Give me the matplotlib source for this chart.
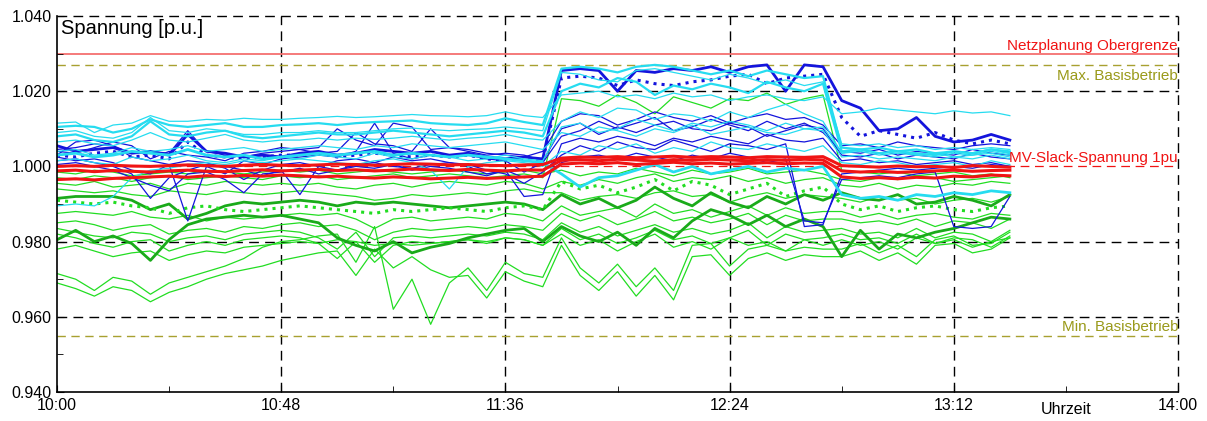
import matplotlib.pyplot as plt
from matplotlib.ticker import MultipleLocator, FixedLocator, FormatStrFormatter

plt.rcParams['font.family'] = ['Liberation Sans', 'DejaVu Sans']

# Zeitstempel in Minuten ab 10:00 (4-Minuten-Raster bis 13:24)
zeit_min = list(range(0, 205, 4))

tick_pos = [0, 48, 96, 144, 192, 240]
tick_labels = ["10:00", "10:48", "11:36", "12:24", "13:12", "14:00"]
minor_pos = [24, 72, 120, 168, 216]

# Grenzwerte [p.u.]
netzplanung_ober = 1.030
basis_max = 1.027
basis_min = 0.955
slack_soll = 1.000

# Spannungsverlaeufe: Abweichung von 1 p.u. in Promille
rot_1 = [0.0, 0.2, 0.0, 0.3, 0.1, 0.0, 0.2, 0.4, 0.2, 0.0, 0.3, 0.5, 0.3, 0.2, 0.4, 0.6, 0.5, 0.3, 0.5, 0.7, 0.6, 0.4, 0.5, 0.3, 0.2, 0.4, 0.5,
         2.2, 2.5, 2.4, 2.6, 2.3, 2.5, 2.7, 2.4, 2.6, 2.5, 2.3, 2.6, 2.5, 2.4, 2.6,
         0.2, 0.0, -0.2, 0.1, -0.1, 0.0, -0.3, 0.2, 0.0, -0.2]
rot_2 = [-1.2, -1.0, -1.4, -1.1, -1.3, -1.5, -1.2, -1.0, -1.3, -1.4, -1.1, -0.9, -1.2, -1.0, -0.8, -1.1, -0.9, -1.2, -1.0, -0.7, -0.9, -1.1, -0.8, -1.0, -1.2, -0.9, -1.0,
         1.6, 1.8, 1.5, 1.9, 1.7, 1.4, 1.8, 1.6, 1.9, 1.7, 1.5, 1.8, 1.6, 1.9, 1.7,
         -1.2, -1.5, -1.3, -1.6, -1.4, -1.2, -1.0, -1.3, -1.1, -1.0]
rot_3 = [-3.5, -3.3, -3.6, -3.2, -3.0, -2.8, -2.6, -2.9, -2.5, -2.7, -2.4, -2.6, -2.3, -2.5, -2.8, -2.6, -2.9, -3.1, -2.8, -3.0, -3.3, -3.1, -2.9, -3.2, -3.0, -2.8, -2.6,
         0.6, 0.9, 0.7, 1.0, 0.5, 0.8, 1.1, 0.7, 0.9, 0.6, 0.8, 1.0, 0.7, 0.9, 0.8,
         -2.8, -3.2, -3.0, -3.3, -2.9, -3.1, -2.6, -2.8, -2.3, -2.5]

cyan_1 = [11.5, 11.8, 9.0, 11.0, 11.5, 13.5, 12.0, 12.0, 12.5, 12.3, 12.8, 12.5, 12.5, 12.8, 13.0, 13.3, 13.0, 13.2, 13.5, 13.8, 13.5, 13.4, 13.2, 13.5, 14.5, 13.5, 13.0,
          19.0, 19.5, 20.0, 18.5, 19.0, 18.0, 19.5, 18.5, 19.0, 17.5, 18.5, 19.0, 18.0, 17.5, 18.5,
          14.0, 14.5, 15.5, 15.0, 14.5, 14.0, 14.8, 14.2, 14.5, 13.5]
cyan_2 = [10.5, 10.8, 10.5, 9.0, 10.0, 12.5, 11.0, 10.5, 11.0, 11.5, 10.5, 10.5, 11.0, 11.2, 11.5, 11.0, 11.5, 11.8, 12.0, 12.2, 11.5, 11.2, 11.0, 11.5, 12.8, 11.8, 11.0,
          26.0, 26.5, 26.0, 25.0, 26.5, 27.0, 26.5, 25.5, 24.5, 25.5, 24.0, 25.5, 24.5, 23.5, 24.0,
          5.0, 4.5, 5.0, 4.0, 4.5, 3.5, 4.0, 3.5, 4.5, 4.0]
cyan_3 = [9.0, 9.5, 8.0, 7.5, 9.0, 13.0, 9.5, 9.0, 10.0, 9.5, 8.5, 8.5, 9.0, 9.0, 9.5, 9.0, 9.0, 9.5, 10.0, 10.2, 9.8, 9.5, 9.8, 10.0, 10.5, 10.0, 9.5,
          25.0, 24.5, 23.0, 22.5, 25.5, 26.0, 25.0, 24.0, 23.0, 24.5, 23.5, 22.0, 23.0, 21.5, 22.5,
          6.0, 5.5, 6.0, 5.0, 5.5, 4.5, 5.0, 4.5, 5.0, 4.5]
cyan_4 = [3.0, 3.5, 2.5, 3.0, 4.0, 3.5, 3.0, 4.5, 3.0, 2.5, 3.0, 2.0, 2.5, 3.0, 3.5, 3.0, 3.5, 4.0, 3.0, 3.5, 3.0, 2.5, 3.0, 2.5, 2.0, 1.5, 1.0,
          -2.0, -5.5, -3.0, -2.5, -1.0, 0.5, -1.5, 0.0, -2.0, -1.0, 0.0, -1.5, -0.5, -1.0, 0.0,
          -7.5, -8.5, -8.0, -9.0, -7.5, -8.0, -7.0, -7.5, -6.5, -7.0]
cyan_5 = [6.5, 7.0, 6.0, 5.5, 7.0, 9.0, 7.0, 6.5, 7.5, 8.5, 7.0, 6.5, 7.0, 7.0, 7.5, 7.0, 7.5, 7.2, 7.5, 8.0, 7.5, 7.0, 7.5, 7.8, 8.5, 7.5, 7.0,
          12.0, 14.5, 13.0, 15.5, 15.0, 12.5, 14.0, 13.5, 12.0, 14.5, 13.0, 15.0, 16.5, 14.0, 12.0,
          3.5, 4.0, 3.0, 3.5, 3.0, 2.5, 3.5, 3.0, 3.5, 2.5]
cyan_6 = [4.0, 4.5, 3.0, 3.5, 5.0, 4.0, 4.5, 5.5, 4.0, 4.5, 5.0, 4.0, 4.5, 5.0, 5.5, 5.0, 4.5, 5.5, 5.0, 6.0, 5.5, 5.0, 5.5, 6.0, 6.5, 5.5, 4.5,
          9.0, 8.0, 10.5, 9.5, 8.0, 10.0, 9.0, 11.0, 8.5, 9.5, 10.5, 9.0, 8.5, 10.0, 9.5,
          2.5, 3.0, 2.0, 2.5, 2.0, 1.5, 2.5, 2.0, 3.0, 2.0]
cyan_7 = [-10.5, -10.0, -10.5, -8.0, -3.0, -1.0, -0.5, 0.5, 1.0, 0.5, 1.5, 1.0, 1.5, 2.0, 1.5, 1.0, 0.5, 1.5, 2.0, 1.0, -1.0, -6.0, 0.0, 1.0, 1.5, 1.0, 0.0,
          4.0, 3.0, 5.5, 4.5, 6.0, 3.5, 5.0, 4.0, 6.5, 5.0, 4.5, 6.0, 5.0, 4.0, 5.5,
          1.0, 0.5, 1.5, 1.0, 0.0, 0.5, 1.0, 0.0, 1.5, 0.5]
cyan_8 = [1.5, 2.0, 1.0, 0.5, 2.5, 1.5, 2.0, 3.0, 1.5, 1.0, 2.0, 1.5, 2.5, 2.0, 3.0, 2.5, 2.0, 3.5, 2.5, 2.0, 3.0, 2.5, 1.5, 2.0, 3.0, 2.0, 1.5,
          10.5, 11.5, 9.0, 10.0, 12.5, 11.0, 9.5, 11.5, 10.5, 12.0, 11.0, 9.5, 11.5, 10.0, 10.5,
          3.5, 4.5, 3.5, 4.0, 3.0, 3.5, 2.5, 3.0, 4.0, 3.0]
cyan_9 = [8.0, 8.5, 7.0, 6.5, 8.0, 12.0, 8.5, 8.0, 9.0, 9.5, 8.0, 7.5, 8.0, 8.5, 9.0, 8.5, 8.5, 9.0, 9.5, 9.0, 8.5, 8.0, 8.5, 9.0, 9.5, 9.0, 8.0,
          20.0, 22.0, 21.0, 23.5, 22.5, 19.0, 21.5, 20.5, 22.0, 21.0, 19.5, 22.5, 21.0, 20.0, 22.0,
          4.0, 4.5, 3.5, 4.0, 3.5, 3.0, 4.0, 3.5, 4.5, 3.5]

blau_1 = [5.5, 4.0, 4.5, 5.0, 3.5, 4.0, 3.0, 8.5, 4.0, 3.5, 2.5, 3.0, 2.5, 3.5, 4.0, 3.0, 3.5, 4.5, 4.0, 3.5, 4.0, 3.0, 3.5, 2.5, 2.0, 2.5, 2.0,
          25.5, 26.0, 25.5, 20.0, 25.5, 25.0, 26.0, 25.5, 26.5, 25.0, 26.5, 27.0, 20.0, 27.0, 26.5,
          17.5, 15.5, 9.5, 10.0, 13.0, 8.0, 6.5, 7.0, 8.5, 7.0]
blau_2 = [3.0, 2.5, 3.5, 4.0, 2.5, 3.0, 2.0, 6.5, 3.0, 2.5, 2.0, 2.5, 3.0, 3.0, 3.5, 2.5, 3.0, 3.5, 3.0, 2.5, 3.0, 2.5, 3.0, 2.0, 1.5, 2.0, 1.5,
          23.5, 24.0, 23.5, 21.5, 23.0, 22.0, 21.5, 22.5, 23.0, 24.0, 24.5, 22.0, 23.5, 24.0, 24.5,
          13.0, 8.0, 9.5, 8.5, 7.5, 9.0, 7.0, 6.0, 7.0, 6.0]
blau_3 = [3.0, 6.5, 7.0, 5.5, 2.5, 1.5, 0.5, -14.5, 0.0, -2.0, 1.5, 0.5, 2.0, 2.5, 3.0, 2.5, 4.0, 11.5, 3.5, 2.0, 3.0, 2.5, 3.0, 2.0, 1.5, -1.5, 1.0,
          8.0, 9.5, 12.0, 10.0, 11.5, 13.0, 9.5, 10.5, 12.5, 11.0, 9.5, 12.0, 10.0, 11.5, 9.0,
          4.0, 3.5, 4.5, 3.0, 4.0, 3.5, 3.0, 4.5, 3.5, 3.0]
blau_4 = [1.5, 2.0, 1.0, 0.0, -2.0, -8.5, -3.0, -1.0, 0.5, 0.0, -1.0, -2.5, -1.0, -7.5, 0.0, 1.5, 2.0, 1.0, 2.5, 1.5, 2.0, 1.0, 0.5, -1.0, -2.0, -4.5, -1.5,
          3.0, 5.5, 4.0, 6.5, 5.0, 4.5, 7.0, 5.5, 4.0, 6.0, 5.5, 4.5, 6.0, -16.0, -15.5,
          -2.0, -1.5, -1.0, -0.5, -1.0, -0.5, 0.0, -0.5, 0.5, 0.0]
blau_5 = [0.5, 1.0, 0.0, -1.0, -3.0, -5.0, -6.5, -2.0, -1.5, -3.5, -7.0, -2.0, -1.5, -0.5, -2.0, -1.0, 0.0, -0.5, 0.5, -1.0, 0.0, -0.5, -1.5, -2.5, -1.0, -3.0, -2.5,
          1.0, 2.5, 3.0, 2.0, 3.5, 2.5, 1.5, 3.0, 2.0, 3.5, 2.5, 1.0, 2.0, -14.5, -15.0,
          -3.5, -3.0, -2.5, -3.0, -2.0, -1.5, -16.0, -16.5, -16.0, -8.0]
blau_6 = [4.5, 5.0, 6.0, 5.5, 3.5, 4.0, 3.5, 9.5, 4.0, 3.0, 2.5, 3.5, 4.0, 4.5, 5.0, 10.0, 7.0, 5.5, 11.5, 10.5, 4.5, 5.0, 4.5, 3.5, 3.0, 2.5, 4.0,
          12.0, 14.0, 13.5, 11.0, 12.5, 14.5, 13.0, 12.0, 13.5, 11.5, 13.0, 14.0, 12.5, 13.0, 11.0,
          5.5, 6.0, 5.0, 6.5, 5.5, 5.0, 4.5, 5.5, 6.0, 5.5]
blau_7 = [2.5, 1.5, 2.0, 1.0, -1.0, -2.0, 0.5, 1.5, 1.0, -0.5, -3.5, -1.0, 0.5, 1.0, 0.0, -1.0, 0.5, 1.0, 0.0, -0.5, 0.5, 1.0, 0.0, -2.0, -1.0, -8.0, -7.5,
          6.0, 7.5, 6.5, 8.0, 7.0, 5.5, 7.5, 6.5, 8.0, 7.0, 6.0, 8.5, 7.0, 6.5, 7.5,
          1.5, 2.0, 1.0, 1.5, 0.5, 1.0, 1.5, 0.5, 1.0, 0.0]
blau_8 = [4.0, 3.5, 5.0, 6.5, 5.5, 2.0, 4.0, 3.0, 2.5, 1.5, 3.5, 4.0, 5.0, 4.5, 3.5, 4.0, 9.0, 6.0, 5.5, 4.0, 10.0, 5.0, 4.0, 3.0, 3.5, 3.0, 1.5,
          10.0, 11.5, 8.5, 10.5, 9.0, 11.0, 12.0, 10.0, 9.5, 11.5, 10.5, 8.0, 9.5, 11.0, 10.0,
          3.0, 2.5, 3.5, 2.0, 3.0, 2.5, 2.0, 3.5, 2.5, 2.0]

gruen_1 = [-3.0, -3.5, -2.5, -3.0, -4.0, -3.0, -2.5, -3.5, -3.0, -2.5, -3.0, -3.5, -2.5, -3.0, -2.5, -3.5, -3.0, -2.5, -2.0, -3.0, -2.5, -2.0, -2.5, -3.0, -2.5, -2.0, -3.0,
           18.0, 17.5, 16.0, 19.0, 17.0, 14.0, 18.5, 17.0, 15.5, 18.0, 17.5, 19.5, 16.5, 18.0, 19.0,
           -1.0, -1.5, -2.0, -1.5, -2.5, -2.0, -1.5, -2.5, -2.0, -3.0]
gruen_2 = [-4.5, -5.0, -4.0, -5.5, -5.0, -4.5, -6.0, -4.5, -5.0, -4.0, -4.5, -5.0, -4.5, -5.0, -4.5, -5.5, -6.0, -5.0, -4.5, -5.5, -4.5, -4.0, -4.5, -5.0, -4.0, -4.5, -6.0,
           -4.0, -5.0, -3.5, -4.5, -3.0, -2.0, -4.0, -3.0, -3.5, -2.5, -4.0, -3.0, -4.5, -3.5, -3.0,
           -5.0, -5.5, -4.5, -6.0, -5.0, -5.5, -4.5, -5.0, -4.0, -4.5]
gruen_3 = [-6.0, -6.5, -7.0, -6.5, -7.5, -8.0, -6.5, -7.0, -7.5, -6.5, -7.0, -7.5, -7.0, -6.5, -7.0, -7.5, -8.0, -9.0, -8.5, -7.5, -8.0, -7.5, -7.0, -7.5, -6.5, -6.0, -7.0,
           -7.0, -9.0, -8.0, -7.5, -8.5, -7.0, -6.5, -8.0, -7.5, -9.5, -8.0, -7.0, -8.5, -7.5, -8.0,
           -8.5, -9.5, -8.0, -9.0, -8.5, -10.0, -9.0, -8.5, -9.5, -8.0]
gruen_4 = [-8.5, -8.0, -8.0, -8.0, -9.0, -11.5, -10.0, -14.0, -12.5, -10.5, -9.5, -10.0, -9.5, -9.0, -9.5, -10.5, -9.5, -10.0, -9.5, -10.0, -10.5, -11.0, -10.5, -10.0, -9.5, -10.0, -11.5,
           -7.5, -10.0, -8.5, -11.0, -9.0, -5.5, -8.5, -10.5, -7.0, -9.5, -11.0, -8.0, -10.0, -7.5, -9.0,
           -7.0, -8.5, -9.0, -7.5, -10.0, -9.5, -8.0, -9.0, -10.5, -7.5]
gruen_5 = [-9.0, -9.5, -10.0, -9.5, -10.5, -11.0, -12.5, -11.0, -10.5, -11.5, -12.0, -11.5, -11.0, -10.5, -11.0, -11.5, -12.0, -12.5, -11.5, -12.0, -11.5, -11.0, -11.5, -12.0, -11.0, -10.5, -11.5,
           -4.0, -6.0, -5.0, -7.0, -5.5, -3.5, -6.5, -4.0, -5.0, -7.5, -6.0, -4.5, -8.0, -6.5, -5.5,
           -10.0, -11.5, -10.5, -12.0, -11.0, -10.5, -11.5, -12.0, -11.0, -10.5]
gruen_6 = [-12.5, -12.0, -12.5, -13.0, -12.0, -13.5, -14.0, -13.0, -14.5, -13.5, -14.0, -13.5, -13.0, -12.5, -13.0, -12.5, -14.0, -16.5, -14.0, -13.5, -14.5, -14.0, -13.5, -14.0, -12.5, -13.0, -14.5,
           -10.5, -13.0, -12.0, -11.0, -13.5, -10.0, -12.5, -11.5, -13.5, -12.0, -10.5, -13.0, -11.0, -12.5, -12.0,
           -12.0, -13.5, -12.5, -14.0, -13.0, -12.5, -13.5, -14.0, -12.5, -13.0]
gruen_7 = [-15.0, -14.5, -15.5, -17.0, -16.0, -15.5, -18.0, -17.0, -16.5, -17.5, -16.0, -16.5, -15.5, -15.0, -16.0, -15.5, -17.0, -19.5, -17.5, -16.5, -17.0, -16.5, -16.0, -16.5, -15.5, -16.0, -17.0,
           -12.5, -14.5, -13.0, -15.5, -14.0, -12.0, -14.5, -13.5, -15.0, -14.0, -12.5, -15.5, -13.0, -14.5, -14.0,
           -14.0, -15.0, -14.5, -15.5, -14.0, -16.0, -14.5, -15.0, -16.5, -14.0]
gruen_8 = [-16.5, -17.5, -18.5, -19.0, -17.5, -18.0, -20.0, -19.0, -18.5, -19.5, -18.0, -17.5, -17.0, -17.5, -19.0, -22.0, -17.5, -24.0, -19.0, -18.5, -19.0, -18.5, -18.0, -18.5, -17.5, -18.0, -19.5,
           -15.0, -17.5, -16.0, -18.5, -17.0, -15.5, -17.5, -16.5, -18.0, -17.0, -15.0, -19.0, -16.0, -17.5, -17.0,
           -16.5, -18.0, -17.5, -19.0, -16.5, -19.0, -17.5, -18.0, -20.0, -17.0]
gruen_9 = [-19.5, -17.0, -20.0, -18.5, -20.5, -25.0, -19.5, -15.5, -14.0, -13.5, -13.0, -13.5, -13.0, -14.0, -15.0, -19.0, -21.0, -22.5, -20.0, -23.0, -21.5, -20.5, -19.0, -18.0, -17.0, -16.5, -20.0,
           -16.0, -18.5, -20.0, -17.5, -21.0, -16.5, -19.0, -14.5, -11.5, -13.0, -15.5, -13.0, -16.0, -14.0, -16.0,
           -24.0, -17.0, -22.0, -18.0, -19.0, -17.5, -16.5, -15.0, -13.5, -14.0]
gruen_10 = [-22.0, -21.0, -22.5, -24.0, -23.0, -22.5, -25.0, -23.5, -22.5, -23.0, -21.5, -21.0, -20.5, -20.0, -20.5, -19.5, -20.0, -21.0, -20.5, -21.0, -20.5, -20.0, -19.5, -20.5, -19.0, -19.5, -21.0,
            -18.0, -21.0, -19.5, -22.5, -20.0, -18.0, -21.5, -20.0, -22.0, -19.0, -21.0, -20.0, -22.5, -19.5, -21.0,
            -19.5, -21.0, -20.0, -22.0, -19.0, -20.5, -19.5, -21.5, -20.0, -19.0]
gruen_11 = [-28.5, -30.0, -33.0, -29.5, -30.5, -34.0, -31.0, -29.5, -28.0, -26.5, -24.5, -21.5, -20.0, -19.5, -18.5, -18.0, -25.5, -16.0, -38.0, -30.0, -42.0, -31.0, -27.0, -33.0, -25.5, -28.5, -29.5,
            -19.0, -27.0, -31.0, -26.0, -32.0, -27.0, -33.0, -21.0, -20.5, -26.5, -22.0, -21.0, -22.5, -21.5, -22.0,
            -22.0, -20.5, -23.0, -21.0, -24.0, -19.5, -18.5, -21.0, -20.5, -17.5]
gruen_12 = [-31.0, -32.5, -34.5, -32.0, -33.0, -36.0, -33.5, -32.0, -30.0, -28.5, -27.5, -26.5, -25.0, -24.0, -23.0, -22.5, -29.0, -22.0, -27.0, -24.0, -27.5, -29.5, -29.0, -35.0, -28.0, -30.5, -32.0,
            -21.0, -29.0, -33.0, -28.0, -34.5, -29.0, -35.5, -24.0, -23.5, -29.0, -24.5, -23.0, -25.0, -23.5, -24.0,
            -24.0, -22.5, -25.0, -23.0, -26.0, -21.0, -20.5, -23.0, -22.0, -19.0]
gruen_13 = [-1.5, -2.0, -1.0, -1.5, -2.5, -2.0, -1.5, -2.0, -1.0, -1.5, -2.0, -1.5, -1.0, -1.5, -1.0, -2.0, -1.5, -1.0, -1.5, -2.0, -1.5, -1.0, -1.5, -2.0, -1.5, -1.0, -2.0,
            -1.0, -2.5, -1.5, -2.0, -0.5, -1.5, -2.5, -1.0, -2.0, -1.5, -0.5, -2.0, -1.5, -1.0, -2.0,
            -3.5, -4.0, -3.0, -3.5, -2.5, -3.0, -4.0, -3.5, -3.0, -2.5]
gruen_14 = [-18.0, -19.0, -20.5, -21.5, -20.0, -19.5, -22.5, -21.0, -20.0, -21.0, -19.5, -19.0, -18.5, -19.0, -20.5, -24.5, -20.0, -25.5, -21.0, -20.0, -20.5, -20.0, -19.5, -20.0, -19.0, -19.5, -21.0,
            -16.5, -19.5, -18.0, -20.5, -19.0, -17.0, -19.5, -18.5, -20.5, -19.0, -17.0, -21.0, -18.0, -19.5, -19.0,
            -18.0, -19.5, -19.0, -20.5, -18.0, -20.5, -19.0, -19.5, -21.5, -18.5]

GRUEN = '#22dd22'
DUNKELGRUEN = '#1aaa1a'
BLAU = '#1414dc'
CYAN = '#26dcf0'
ROT = '#f01414'


def pu(werte):
    return [1 + w / 1000 for w in werte]


fig = plt.figure(figsize=(12.07, 4.21), dpi=100)
ax = fig.add_axes([57 / 1207, 29 / 421, 1121 / 1207, 376 / 421])

#Gitter und Grenzlinien
for y in [0.96, 0.98, 1.02, 1.04]:
    ax.axhline(y, color='black', lw=1, ls=(0, (7, 4.5)), zorder=1, clip_on=False)
for x in tick_pos[1:]:
    ax.axvline(x, color='black', lw=1, ls=(0, (7, 4.5)), zorder=1, clip_on=False)
ax.axhline(slack_soll, color=ROT, lw=0.9, ls=(0, (7, 4.5)), zorder=1)
ax.axhline(netzplanung_ober, color='#f47070', lw=1.3, zorder=1)
ax.axhline(basis_max, color='#a8a030', lw=1, ls=(0, (6, 4)), zorder=1)
ax.axhline(basis_min, color='#a8a030', lw=1, ls=(0, (6, 4)), zorder=1)

#Verlaeufe
serien = [
    (gruen_12, GRUEN, 0.9, '-'), (gruen_11, GRUEN, 0.9, '-'), (gruen_10, GRUEN, 0.9, '-'),
    (gruen_14, GRUEN, 0.9, '-'), (gruen_8, GRUEN, 0.9, '-'), (gruen_7, GRUEN, 0.9, '-'),
    (gruen_6, GRUEN, 0.9, '-'), (gruen_3, GRUEN, 0.9, '-'), (gruen_2, GRUEN, 0.9, '-'),
    (gruen_13, GRUEN, 0.9, '-'), (gruen_1, GRUEN, 0.9, '-'),
    (gruen_9, DUNKELGRUEN, 2.0, '-'), (gruen_4, DUNKELGRUEN, 2.0, '-'), (gruen_5, GRUEN, 2.2, ':'),
    (blau_3, BLAU, 0.9, '-'), (blau_4, BLAU, 0.9, '-'), (blau_5, BLAU, 0.9, '-'),
    (blau_6, BLAU, 0.9, '-'), (blau_7, BLAU, 0.9, '-'), (blau_8, BLAU, 0.9, '-'),
    (blau_2, BLAU, 2.2, ':'), (blau_1, BLAU, 2.0, '-'),
    (cyan_5, CYAN, 0.9, '-'), (cyan_6, CYAN, 0.9, '-'), (cyan_7, CYAN, 0.9, '-'),
    (cyan_8, CYAN, 0.9, '-'), (cyan_1, CYAN, 0.9, '-'), (cyan_3, CYAN, 0.9, '-'),
    (cyan_2, CYAN, 1.6, '-'), (cyan_9, CYAN, 1.6, '-'), (cyan_4, CYAN, 2.0, '-'),
    (rot_3, ROT, 2.2, '-'), (rot_2, ROT, 2.2, '-'), (rot_1, ROT, 2.2, '-'),
]
for werte, farbe, lw, ls in serien:
    ax.plot(zeit_min, pu(werte), color=farbe, lw=lw, ls=ls, zorder=2)

#Beschriftungen
ax.text(240, netzplanung_ober + 0.0002, "Netzplanung Obergrenze", color=ROT,
        ha='right', va='bottom', fontsize=11)
ax.text(240, basis_max - 0.0012, "Max. Basisbetrieb", color='#9a9a1a',
        ha='right', va='top', fontsize=11)
ax.text(240, slack_soll + 0.0003, "MV-Slack-Spannung 1pu", color=ROT,
        ha='right', va='bottom', fontsize=11, zorder=5)
ax.text(240, basis_min + 0.0004, "Min. Basisbetrieb", color='#9a9a1a',
        ha='right', va='bottom', fontsize=11)
ax.text(0.004, 0.993, "Spannung [p.u.]", transform=ax.transAxes,
        ha='left', va='top', fontsize=14.5)
ax.annotate("Uhrzeit", xy=(216, 0.94), xytext=(0, -7), textcoords='offset points',
            ha='center', va='top', fontsize=11.5)

#Achsen
ax.set_xlim(0, 240)
ax.set_ylim(0.94, 1.04)
ax.xaxis.set_major_locator(FixedLocator(tick_pos))
ax.set_xticklabels(tick_labels)
ax.xaxis.set_minor_locator(FixedLocator(minor_pos))
ax.yaxis.set_major_locator(MultipleLocator(0.02))
ax.yaxis.set_minor_locator(MultipleLocator(0.01))
ax.yaxis.set_major_formatter(FormatStrFormatter('%.3f'))
ax.tick_params(which='both', direction='in', labelsize=11.5, top=False, right=False)
ax.tick_params(which='major', length=5, pad=4)
ax.tick_params(which='minor', length=4)
ax.spines['top'].set_visible(False)
ax.spines['right'].set_visible(False)
ax.spines['left'].set_linewidth(1.2)
ax.spines['bottom'].set_linewidth(1.2)

fig.savefig("out.png", dpi=100)
